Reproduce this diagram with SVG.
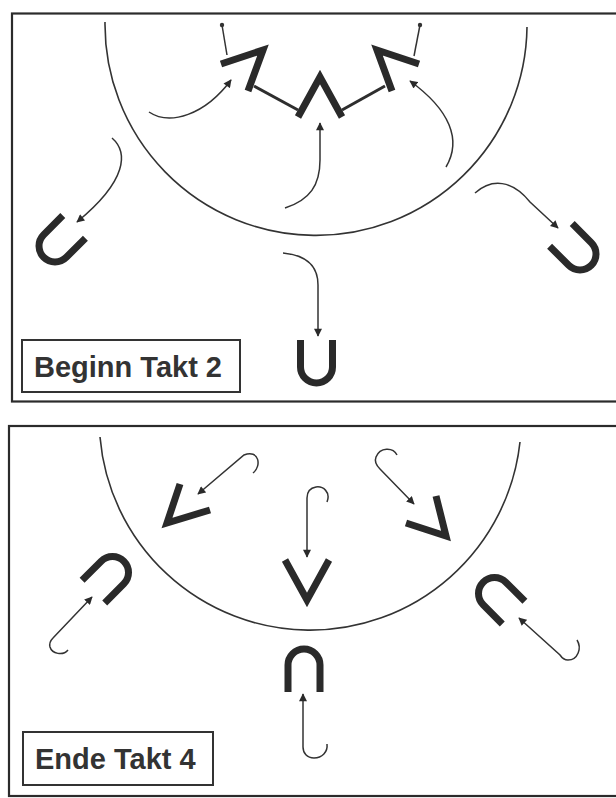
<svg xmlns="http://www.w3.org/2000/svg" width="616" height="798" viewBox="0 0 616 798">
<defs>
<style>
.frame{fill:none;stroke:#2b2b2b;stroke-width:2.2}
.arc{fill:none;stroke:#333;stroke-width:1.6}
.pl{fill:none;stroke:#2a2a2a;stroke-width:7;stroke-linecap:butt;stroke-linejoin:miter}
.u{fill:none;stroke:#2a2a2a;stroke-width:7;stroke-linecap:butt}
.mv{fill:none;stroke:#333;stroke-width:1.5;marker-end:url(#ah)}
.scr{fill:none;stroke:#2e2e2e;stroke-width:3}
.thin{fill:none;stroke:#333;stroke-width:1.5}
.lbox{fill:#fff;stroke:#333;stroke-width:2}
.lbl{font-family:"Liberation Sans",Arial,sans-serif;font-weight:bold;font-size:29px;fill:#333}
</style>
<marker id="ah" viewBox="0 0 10 10" refX="9" refY="5" markerWidth="9" markerHeight="8" markerUnits="userSpaceOnUse" orient="auto">
<path d="M0,0 L10,5 L0,10 Z" fill="#2a2a2a"/>
</marker>
<path id="U" d="M -16 -27 V 0 A 16 16 0 0 0 16 0 V -27"/>
</defs>
<rect width="616" height="798" fill="#fff"/>

<g id="panel-top">
<rect class="frame" x="12" y="13.5" width="620" height="388"/>
<path class="arc" d="M105,22 A211,211 0 0 0 527,27"/>
</g>

<g id="top-center-v"><polyline class="pl" points="298,117 320,77 342,117"/></g>
<g id="top-left-v"><polyline class="pl" points="221,64 263,50 248,91"/></g>
<g id="top-right-v"><polyline class="pl" points="419,64 377,50 392,91"/></g>
<g id="top-left-u"><use href="#U" class="u" transform="translate(55,246) rotate(45)"/></g>
<g id="top-right-u"><use href="#U" class="u" transform="translate(580,254) rotate(-45)"/></g>
<g id="top-bottom-u"><use href="#U" class="u" transform="translate(316.5,367)"/></g>

<g id="label-top">
<rect class="lbox" x="22" y="340" width="218" height="52"/>
<text class="lbl" x="34" y="377">Beginn Takt 2</text>
</g>

<g id="connectors-top">
<line class="scr" x1="254" y1="86" x2="298" y2="110"/>
<line class="scr" x1="342" y1="110" x2="385" y2="86"/>
<line class="thin" x1="222" y1="25" x2="227" y2="55"/>
<circle cx="222" cy="25" r="2.2" fill="#333"/>
<line class="thin" x1="420" y1="25" x2="414" y2="56"/>
<circle cx="420" cy="25" r="2.2" fill="#333"/>
<path class="mv" d="M149,112 C170,126 205,115 231,80"/>
<path class="mv" d="M285,208 C310,200 320,185 320,160 L320,123"/>
<path class="mv" d="M446,167 C462,140 450,110 410,81"/>
<path class="mv" d="M112,138 C128,152 128,180 77,222"/>
<path class="mv" d="M283,253 C305,255 318,265 318,285 L318,336"/>
<path class="mv" d="M475,193 C492,178 512,180 530,202 L558,228"/>
</g>

<g id="panel-bottom">
<rect class="frame" x="9" y="426" width="620" height="370"/>
<path class="arc" d="M100,437 A211,211 0 0 0 520,442"/>
</g>

<g id="bot-left-v"><polyline class="pl" points="180,484 167,523 210,510"/></g>
<g id="bot-center-v"><polyline class="pl" points="285,560 307,600 329,560"/></g>
<g id="bot-right-v"><polyline class="pl" points="406,523 446,536 436,496"/></g>
<g id="bot-left-u"><use href="#U" class="u" transform="translate(112.5,572.5) rotate(-135)"/></g>
<g id="bot-right-u"><use href="#U" class="u" transform="translate(494.5,593.5) rotate(135)"/></g>
<g id="bot-bottom-u"><use href="#U" class="u" transform="translate(304,665) rotate(180)"/></g>

<g id="label-bottom">
<rect class="lbox" x="23" y="732" width="190" height="53"/>
<text class="lbl" x="35" y="769">Ende Takt 4</text>
</g>

<g id="connectors-bottom">
<path class="mv" d="M253,473 C262,466 259,449 244,455 L198,494"/>
<path class="mv" d="M327,502 C331,492 323,486 316,487 C310,488 307,492 307,498 L307,557"/>
<path class="mv" d="M397,455 C393,447 380,447 376,457 C374,462 377,466 380,469 L414,504"/>
<path class="mv" d="M68,650 C63,656 52,654 50,647 C49,643 50,641 53,638 L92,597"/>
<path class="mv" d="M327,744 C328,752 322,758 314,758 C307,758 303,753 303,747 L303,694"/>
<path class="mv" d="M577,640 C582,648 578,660 568,660 C565,660 562,658 560,655 L519,618"/>
</g>
</svg>
